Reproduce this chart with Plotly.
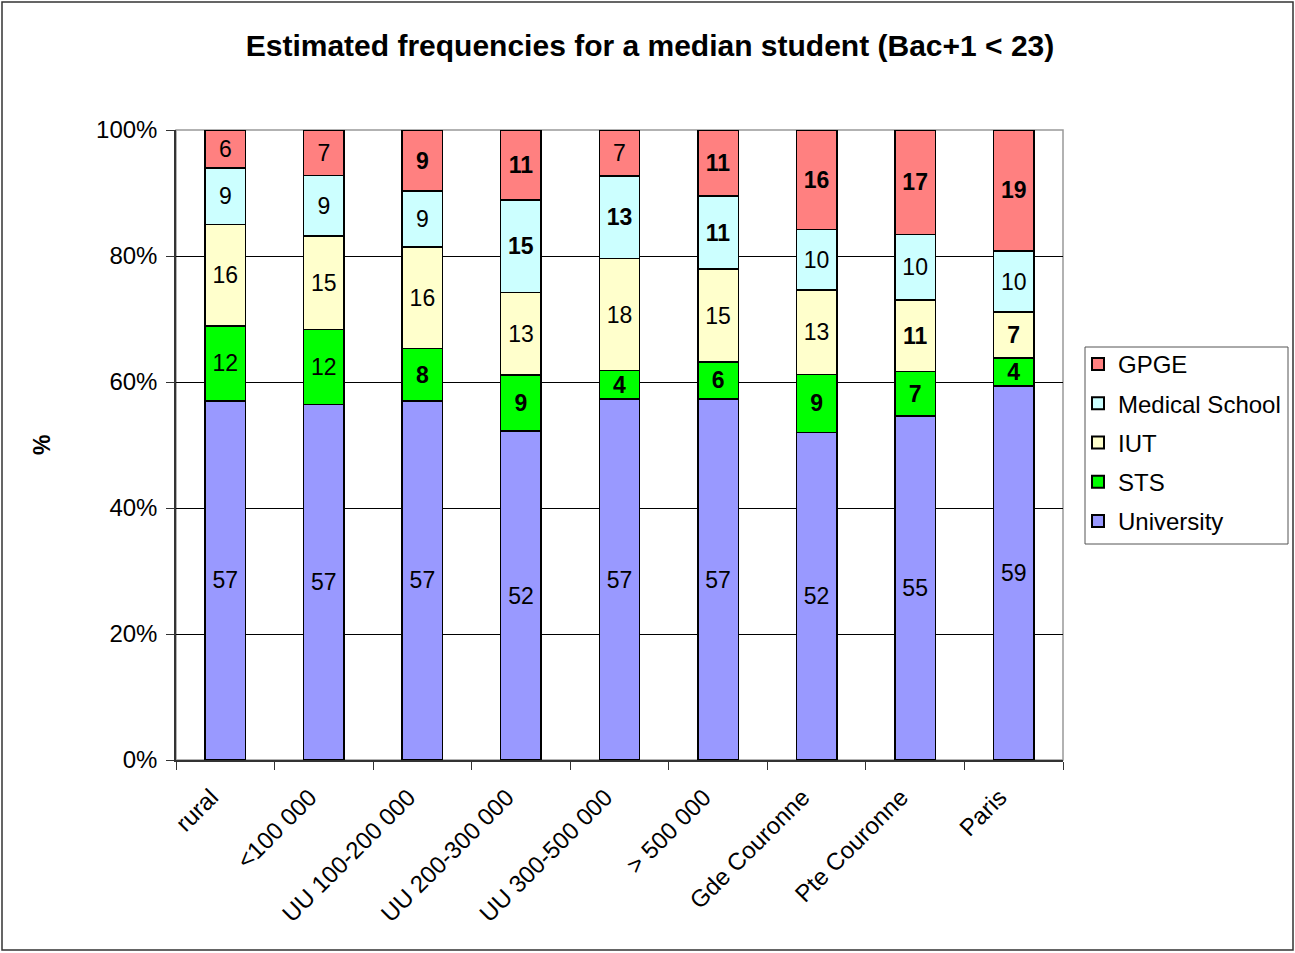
import plotly.graph_objects as go

categories = ["rural", "<100 000", "UU 100-200 000", "UU 200-300 000", "UU 300-500 000",
              "> 500 000", "Gde Couronne", "Pte Couronne", "Paris"]

university = [57.0, 56.4, 57.0, 52.2, 57.3, 57.3, 52.0, 54.6, 59.4]
sts        = [11.9, 11.9, 8.3, 8.9, 4.5, 5.9, 9.2, 7.1, 4.4]
iut        = [16.1, 14.9, 16.1, 13.1, 17.8, 14.7, 13.4, 11.3, 7.3]
medical    = [9.0, 9.6, 8.9, 14.7, 13.1, 11.6, 9.6, 10.4, 9.7]
gpge       = [6.0, 7.2, 9.7, 11.1, 7.3, 10.5, 15.8, 16.6, 19.2]

university_labels = [57, 57, 57, 52, 57, 57, 52, 55, 59]
sts_labels        = [12, 12, 8, 9, 4, 6, 9, 7, 4]
iut_labels        = [16, 15, 16, 13, 18, 15, 13, 11, 7]
medical_labels    = [9, 9, 9, 15, 13, 11, 10, 10, 10]
gpge_labels       = [6, 7, 9, 11, 7, 11, 16, 17, 19]

university_bold = [0, 0, 0, 0, 0, 0, 0, 0, 0]
sts_bold        = [0, 0, 1, 1, 1, 1, 1, 1, 1]
iut_bold        = [0, 0, 0, 0, 0, 0, 0, 1, 1]
medical_bold    = [0, 0, 0, 1, 1, 1, 0, 0, 0]
gpge_bold       = [0, 0, 1, 1, 0, 1, 1, 1, 1]

y_ticks = [0, 20, 40, 60, 80, 100]
y_tick_labels = ["0%", "20%", "40%", "60%", "80%", "100%"]

FONT = "Liberation Sans, Arial, sans-serif"

def fmt(labels, bold):
    return [f"<b>{v}</b>" if b else f"{v}" for v, b in zip(labels, bold)]

series = [
    ("University", university, university_labels, university_bold, "#9999FF"),
    ("STS", sts, sts_labels, sts_bold, "#00FF00"),
    ("IUT", iut, iut_labels, iut_bold, "#FFFFCC"),
    ("Medical School", medical, medical_labels, medical_bold, "#CCFFFF"),
    ("GPGE", gpge, gpge_labels, gpge_bold, "#FF8080"),
]

fig = go.Figure()
for i, (name, vals, labels, bold, color) in enumerate(series):
    fig.add_trace(go.Bar(
        name=name, x=categories, y=vals, legendgroup=name,
        legendrank=100 - i,
        text=fmt(labels, bold), textposition="inside", insidetextanchor="middle",
        textangle=0, textfont=dict(family=FONT, size=23, color="black"),
        marker=dict(color=color, line=dict(color="black", width=1.5)),
        hoverinfo="skip",
    ))

fig.update_layout(
    barmode="stack",
    bargap=0.59,
    width=1295, height=953,
    margin=dict(l=176, r=232, t=130, b=193, autoexpand=False),
    paper_bgcolor="white", plot_bgcolor="white",
    font=dict(family=FONT, size=24, color="black"),
    uniformtext=dict(minsize=23, mode="show"),
    title=dict(text="<b>Estimated frequencies for a median student (Bac+1 < 23)</b>",
               x=(650 / 1295), xref="container", xanchor="center",
               y=1 - 45 / 953, yref="container", yanchor="middle",
               font=dict(family=FONT, size=30, color="black")),
    legend=dict(traceorder="grouped", x=(1078 - 176) / 887, xanchor="left",
                y=(760 - 342) / 630, yanchor="top",
                borderwidth=0, bgcolor="rgba(0,0,0,0)",
                font=dict(family=FONT, size=24, color="black"),
                itemsizing="constant", tracegroupgap=5),
    showlegend=True,
)

fig.update_xaxes(
    showline=True, linecolor="#333333", linewidth=1.5,
    ticks="outside", tickson="boundaries", ticklen=8, tickcolor="#333333",
    tickangle=-45, tickfont=dict(family=FONT, size=24, color="black"),
    ticklabelstandoff=12, ticklabelshift=-14,
    showgrid=False,
)
fig.update_yaxes(
    range=[0, 100], tickvals=y_ticks, ticktext=y_tick_labels,
    showline=True, linecolor="#333333", linewidth=1.5,
    ticks="outside", ticklen=8, tickcolor="#333333",
    tickfont=dict(family=FONT, size=24, color="black"),
    ticklabelstandoff=4,
    showgrid=True, gridcolor="black", gridwidth=1,
    zeroline=False,
)

# plot area border (gray, top/right)
fig.add_shape(type="rect", xref="paper", yref="paper", x0=0, x1=1, y0=0, y1=1,
              line=dict(color="#999999", width=1.5), layer="below")
# outer chart border
fig.add_shape(type="rect", xref="paper", yref="paper",
              x0=(2 - 176) / 887, x1=(1293 - 176) / 887,
              y0=(760 - 950) / 630, y1=(760 - 2) / 630,
              line=dict(color="#333333", width=1.5))
# legend box
fig.add_shape(type="rect", xref="paper", yref="paper",
              x0=(1085 - 176) / 887, x1=(1288 - 176) / 887,
              y0=(760 - 544) / 630, y1=(760 - 347) / 630,
              line=dict(color="#555555", width=1))

fig.add_annotation(text="<b>%</b>", xref="paper", yref="paper",
                   x=(42 - 176) / 887, y=0.5, xanchor="center", yanchor="middle",
                   textangle=-90, showarrow=False,
                   font=dict(family=FONT, size=23, color="black"))

fig.write_html("out.html", post_script="document.body.style.margin='0';",
               config={"displayModeBar": False})
